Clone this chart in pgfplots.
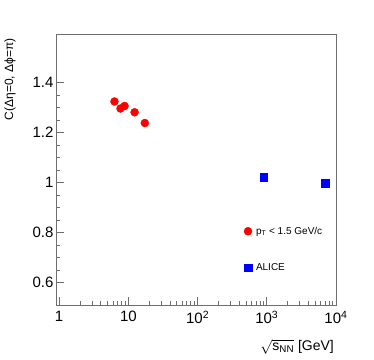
\documentclass[border=0pt]{standalone}
\usepackage{amsmath}
\usepackage{fontspec}
\setmainfont{Liberation Sans}
\usepackage{pgfplots}
\pgfplotsset{compat=1.18}
\definecolor{rootred}{RGB}{255,0,0}
\definecolor{rootblue}{RGB}{0,0,255}
\definecolor{framegray}{RGB}{110,110,110}

\begin{document}
\begin{tikzpicture}[x=1pt,y=1pt]
\useasboundingbox (0,0) rectangle (374,359);
\begin{axis}[
  at={(56pt,54pt)}, anchor=south west,
  width=280pt, height=270pt, scale only axis,
  xmode=log,
  xmin=0.9, xmax=10000,
  ymin=0.51, ymax=1.59,
  xtick={1,10,100,1000,10000},
  xticklabels={1,10,10\textsuperscript{2},10\textsuperscript{3},10\textsuperscript{4}},
  ytick={0.6,0.8,1,1.2,1.4},
  yticklabels={0.6,0.8,1,1.2,1.4},
  minor y tick num=3,
  xtick pos=bottom, ytick pos=left,
  tick align=inside,
  major tick length=8pt, minor tick length=4pt,
  axis line style={framegray, line width=1pt},
  every tick/.style={framegray, line width=0.8pt},
  tick label style={font=\fontsize{15}{17}\selectfont},
  yticklabel style={xshift=1pt},
  xticklabel style={yshift=-5pt, text depth=0pt, inner ysep=1pt},
  legend style={draw=none, fill=none, at={(0.66,0.305)}, anchor=north west,
    font=\fontsize{10}{12}\selectfont, row sep=24pt,
    legend cell align=left,
    nodes={inner xsep=4pt}},
  legend image code/.code={\draw[#1] plot coordinates {(0.3cm,0cm)};},
]
\addplot [only marks, mark=*, mark size=4pt, color=rootred]
  coordinates {(6.3,1.324)(7.7,1.296)(8.8,1.306)(12.3,1.281)(17.3,1.238)};
\addlegendentry{p\textsubscript{T} < 1.5 GeV/c}
\addplot [only marks, mark=square*, mark size=3.8pt, color=rootblue]
  coordinates {(900,1.021)(7000,0.997)};
\addlegendentry{ALICE}
\end{axis}
\node[anchor=east, rotate=90, font=\fontsize{12}{14}\selectfont] at (10,324) {C(Δη=0, Δϕ=π)};
\node[anchor=east, inner sep=0pt, font=\fontsize{14}{16}\selectfont] at (334,12)
  {$\sqrt{\text{s}_{\text{NN}}}$ [GeV]};
\end{tikzpicture}
\end{document}
